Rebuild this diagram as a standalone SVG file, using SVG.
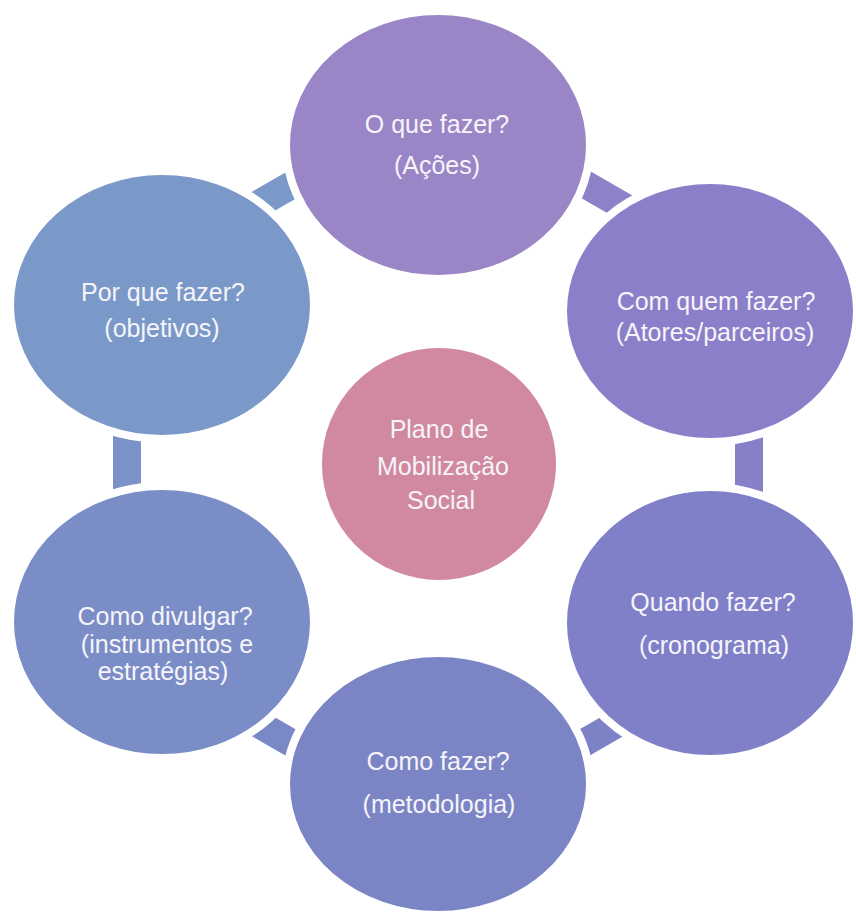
<svg xmlns="http://www.w3.org/2000/svg" width="856" height="914" viewBox="0 0 856 914">
<style>
.lbl{font-family:"Liberation Sans",Arial,sans-serif;font-size:25px;fill:#f6f4fa;text-anchor:middle}
.node{stroke:#ffffff;stroke-width:8}
</style>
<rect width="856" height="914" fill="#ffffff"/>
<g id="connectors">
<rect x="-35" y="-14" width="70" height="28" fill="#8f81c8" transform="translate(602,194) rotate(30)"/>
<rect x="-45" y="-14" width="90" height="28" fill="#8780c8" transform="translate(749,467) rotate(90)"/>
<rect x="-35" y="-14" width="70" height="28" fill="#7d82c6" transform="translate(601,733) rotate(-30)"/>
<rect x="-35" y="-14" width="70" height="28" fill="#7b88c6" transform="translate(276,734) rotate(30)"/>
<rect x="-45" y="-14" width="90" height="28" fill="#7a92c7" transform="translate(127,466) rotate(90)"/>
<rect x="-35" y="-14" width="70" height="28" fill="#7a99c8" transform="translate(276,194) rotate(-30)"/>
</g>
<g id="node-oque">
<ellipse class="node" cx="438" cy="145" rx="152" ry="134" fill="#9a85c6"/>
<text class="lbl" x="437" y="133">O que fazer?</text>
<text class="lbl" x="437" y="174">(Ações)</text>
</g>
<g id="node-comquem">
<ellipse class="node" cx="710" cy="311" rx="147" ry="131" fill="#8b7fc9"/>
<text class="lbl" x="716" y="310">Com quem fazer?</text>
<text class="lbl" x="715" y="341">(Atores/parceiros)</text>
</g>
<g id="node-quando">
<ellipse class="node" cx="710" cy="623" rx="147" ry="136" fill="#7f80c8"/>
<text class="lbl" x="713" y="611">Quando fazer?</text>
<text class="lbl" x="714" y="654">(cronograma)</text>
</g>
<g id="node-como">
<ellipse class="node" cx="438" cy="784" rx="152" ry="131" fill="#7b85c5"/>
<text class="lbl" x="438" y="770">Como fazer?</text>
<text class="lbl" x="439" y="813">(metodologia)</text>
</g>
<g id="node-divulgar">
<ellipse class="node" cx="162" cy="622" rx="152" ry="136" fill="#7a8dc6"/>
<text class="lbl" x="165" y="625">Como divulgar?</text>
<text class="lbl" x="167" y="653">(instrumentos e</text>
<text class="lbl" x="163" y="680">estratégias)</text>
</g>
<g id="node-porque">
<ellipse class="node" cx="162" cy="305" rx="152" ry="134" fill="#7a99c8"/>
<text class="lbl" x="163" y="301">Por que fazer?</text>
<text class="lbl" x="162" y="337">(objetivos)</text>
</g>
<g id="node-centro">
<ellipse class="node" cx="439" cy="464" rx="121" ry="120" fill="#d0899f"/>
<text class="lbl" x="439" y="438">Plano de</text>
<text class="lbl" x="443" y="475">Mobilização</text>
<text class="lbl" x="441" y="509">Social</text>
</g>
</svg>
